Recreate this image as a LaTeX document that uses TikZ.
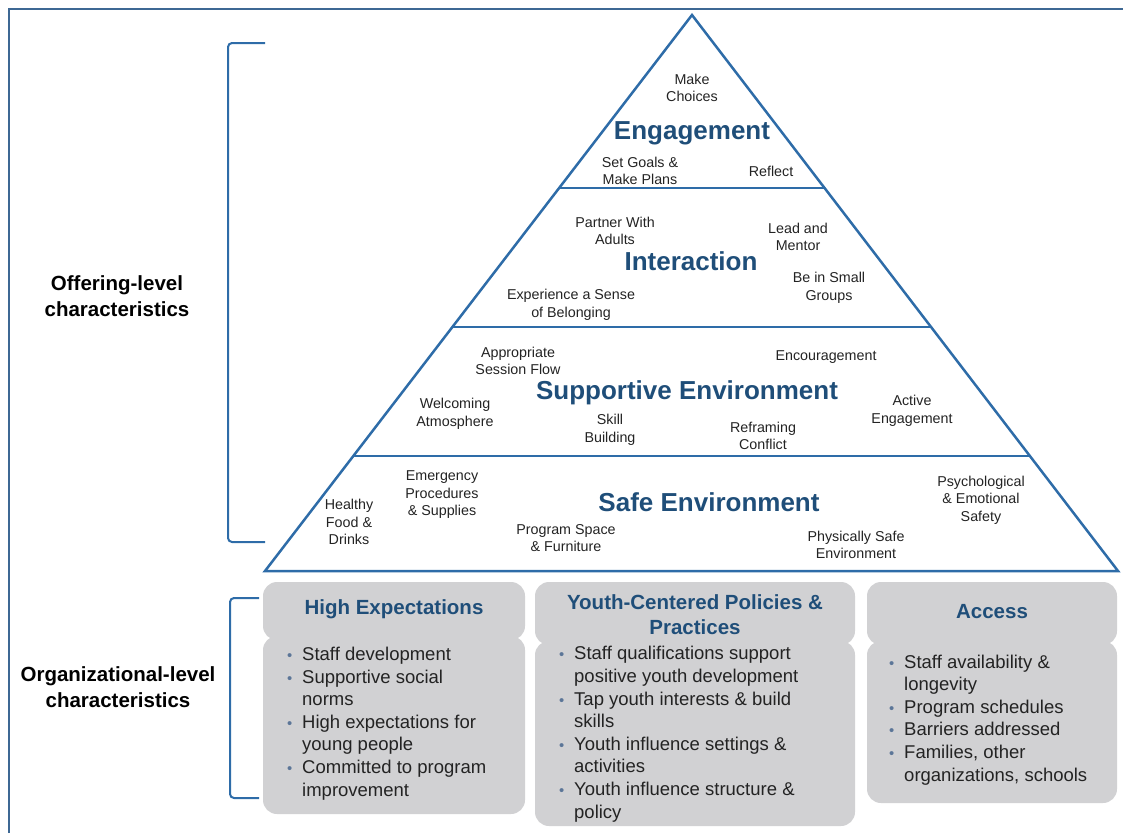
\documentclass[tikz,border=0pt]{standalone}
\usepackage{fontspec}
\setmainfont{Liberation Sans}
\usepackage{xcolor}
\usetikzlibrary{calc, positioning}

\definecolor{khungxanh}{RGB}{46,108,168}
\definecolor{vienngoai}{RGB}{62,104,148}
\definecolor{chuxanh}{RGB}{31,78,121}
\definecolor{nenxam}{RGB}{209,209,211}
\definecolor{chuden}{RGB}{35,35,35}
\definecolor{chamxanh}{RGB}{92,118,152}

% cham dau dong va thut le cho dong tiep theo
\newcommand{\cham}{\makebox[15pt][l]{\textcolor{chamxanh}{\scalebox{0.8}{•}}}}
\newcommand{\lui}{\hspace*{15pt}}

\begin{document}
\begin{tikzpicture}[x=1pt, y=-1pt,
    nho/.style={align=center, inner sep=0pt, text=chuden, font=\fontsize{14.3}{17.5}\selectfont},
    tang/.style={inner sep=0pt, text=chuxanh, font=\bfseries\fontsize{26}{30}\selectfont},
    ben/.style={align=center, inner sep=0pt, font=\bfseries\fontsize{20.5}{25.5}\selectfont},
    tieude/.style={align=center, inner sep=0pt, text=chuxanh, font=\bfseries\fontsize{20.5}{25}\selectfont},
    muc/.style={align=left, inner sep=0pt, anchor=base west, text=chuden, font=\fontsize{18.5}{22.6}\selectfont},
    hop/.style={fill=nenxam, rounded corners=14pt}]
    \useasboundingbox (0,0) rectangle (1123,833);

    % 1. Khung ngoai
    \draw[vienngoai, line width=2.5pt] (9,833) -- (9,9) -- (1123,9);

    % 2. Kim tu thap va cac vach ngang
    \coordinate (dinh) at (692,15);
    \coordinate (trai) at (265,571);
    \coordinate (phai) at (1118,571);
    \draw[khungxanh, line width=2.5pt] (dinh) -- (trai) -- (phai) -- cycle;
    \foreach \t in {0.311,0.561,0.793} {
        \draw[khungxanh, line width=2.5pt] ($(dinh)!\t!(trai)$) -- ($(dinh)!\t!(phai)$);
    }

    % 3. Ngoac vuong ben trai
    \draw[khungxanh, line width=2pt, rounded corners=4pt] (265,43) -- (228,43) -- (228,542) -- (265,542);
    \draw[khungxanh, line width=2pt, rounded corners=4pt] (259,598) -- (230,598) -- (230,798) -- (259,798);
    \node[ben] (offering) at (117,296) {Offering-level\\characteristics};
    \node[ben] (org) at (118,687) {Organizational-level\\characteristics};

    % 4. Tang tren cung
    \node[nho] (choices) at (692,88) {Make\\Choices};
    \node[tang] (engage) at (692,133) {Engagement};
    \node[nho] (goals) at (640,171) {Set Goals \&\\Make Plans};
    \node[nho] (reflect) at (771,171) {Reflect};

    % 5. Tang thu hai
    \node[nho] (partner) at (615,231) {Partner With\\Adults};
    \node[nho] (lead) at (798,237) {Lead and\\Mentor};
    \node[tang] (interact) at (691,261) {Interaction};
    \node[nho] (groups) at (829,288) {Be in Small\\Groups};
    \node[nho] (belong) at (571,305) {Experience a Sense\\of Belonging};

    % 6. Tang thu ba
    \node[nho] (flow) at (518,361) {Appropriate\\Session Flow};
    \node[nho] (encourage) at (826,357) {Encouragement};
    \node[tang] (support) at (687,393) {Supportive Environment};
    \node[nho] (welcome) at (455,414) {Welcoming\\Atmosphere};
    \node[nho] (active) at (912,411) {Active\\Engagement};
    \node[nho] (skill) at (610,430) {Skill\\Building};
    \node[nho] (reframe) at (763,436) {Reframing\\Conflict};

    % 7. Tang day
    \node[nho] (emergency) at (442,495) {Emergency\\Procedures\\\& Supplies};
    \node[nho] (food) at (349,522) {Healthy\\Food \&\\Drinks};
    \node[tang] (safe) at (709,502) {Safe Environment};
    \node[nho] (psych) at (981,500) {Psychological\\\& Emotional\\Safety};
    \node[nho] (space) at (566,538) {Program Space\\\& Furniture};
    \node[nho] (physical) at (856,545) {Physically Safe\\Environment};

    % 8. Ba hop xam phia duoi
    \fill[hop] (263,582) rectangle (525,640);
    \fill[hop] (263,636) rectangle (525,814);
    \fill[hop] (535,582) rectangle (855,645);
    \fill[hop] (535,641) rectangle (855,826);
    \fill[hop] (867,582) rectangle (1117,645);
    \fill[hop] (867,641) rectangle (1117,803);

    \node[tieude] (high) at (394,609) {High Expectations};
    \node[tieude] (policy) at (695,614.5) {Youth-Centered Policies \&\\Practices};
    \node[tieude] (access) at (992,612) {Access};

    % moc base la dong cuoi cua moi danh sach
    \node[muc] (dsA) at (287,796) {\cham Staff development\\
        \cham Supportive social\\ \lui norms\\
        \cham High expectations for\\ \lui young people\\
        \cham Committed to program\\ \lui improvement};
    \node[muc] (dsB) at (559,818) {\cham Staff qualifications support\\ \lui positive youth development\\
        \cham Tap youth interests \& build\\ \lui skills\\
        \cham Youth influence settings \&\\ \lui activities\\
        \cham Youth influence structure \&\\ \lui policy};
    \node[muc] (dsC) at (889,781) {\cham Staff availability \&\\ \lui longevity\\
        \cham Program schedules\\
        \cham Barriers addressed\\
        \cham Families, other\\ \lui organizations, schools};
\end{tikzpicture}
\end{document}
